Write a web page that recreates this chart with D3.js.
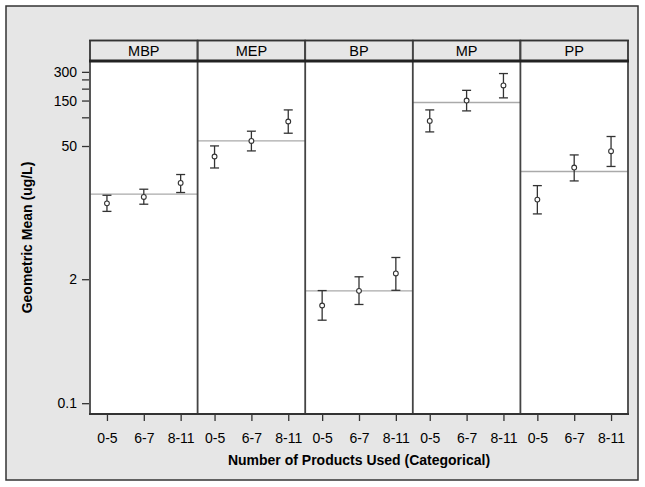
<!DOCTYPE html>
<html><head><meta charset="utf-8">
<script src="https://cdn.jsdelivr.net/npm/d3@7"></script>
<style>body{margin:0;background:#fff;}svg{display:block;font-family:"Liberation Sans",Arial,sans-serif;}</style>
</head><body><svg id="c" width="645" height="487"></svg>
<script>
const analytes = ["MBP","MEP","BP","MP","PP"];
const categories = ["0-5","6-7","8-11"];
const meanMBP = [12.5,14.6,20.5], loMBP = [10.3,12.25,16.25], hiMBP = [15.2,17.6,25.1];
const meanMEP = [38.8,56.5,90.4], loMEP = [29.4,44.4,68.1], hiMEP = [50.1,71.5,119.6];
const meanBP  = [1.06,1.51,2.30], loBP  = [0.743,1.086,1.53], hiBP  = [1.52,2.12,3.38];
const meanMP  = [91.7,150,216],   loMP  = [70.3,116.8,160],  hiMP  = [119.6,192,288];
const meanPP  = [13.7,29.7,44.1], loPP  = [9.69,21.5,30.5],  hiPP  = [19.2,40.3,62.9];
const overall = [15.6,56.5,1.51,143,27.0];
const yTicks = [0.1,2,50,100,150,200,250,300];
const yLabeled = [0.1,2,50,150,300];

const series = {MBP:[meanMBP,loMBP,hiMBP],MEP:[meanMEP,loMEP,hiMEP],BP:[meanBP,loBP,hiBP],MP:[meanMP,loMP,hiMP],PP:[meanPP,loPP,hiPP]};

const svg = d3.select("#c");
const L=90,R=628,stripTop=40.5,T=61,B=414;
const dark="#333";

svg.append("rect").attr("x",6).attr("y",6).attr("width",632).attr("height",474)
  .attr("fill","#e6e6e6").attr("stroke",dark).attr("stroke-width",1.5);

const px = d3.scaleBand().domain(analytes).range([L,R]).padding(0);
const y = d3.scaleLog().domain([0.077,390]).range([B,T]);

analytes.forEach((a,i)=>{
  const x0 = px(a), w = px.bandwidth();
  const g = svg.append("g");
  g.append("rect").attr("x",x0).attr("y",T).attr("width",w).attr("height",B-T).attr("fill","#fff");
  g.append("rect").attr("x",x0).attr("y",stripTop).attr("width",w).attr("height",T-stripTop)
    .attr("fill","#e6e6e6").attr("stroke",dark).attr("stroke-width",1.5);
  g.append("text").attr("x",x0+w/2).attr("y",(stripTop+T)/2).attr("dy","0.36em")
    .attr("text-anchor","middle").attr("font-size",14.5).attr("fill","#000").text(a);
  const xs = d3.scalePoint().domain(categories).range([x0,x0+w]).padding(0.46);
  g.append("line").attr("x1",x0).attr("x2",x0+w).attr("y1",y(overall[i])).attr("y2",y(overall[i]))
    .attr("stroke","#aaa").attr("stroke-width",1.3);
  const [m,lo,hi] = series[a];
  categories.forEach((c,j)=>{
    const cx = xs(c);
    g.append("line").attr("x1",cx).attr("x2",cx).attr("y1",y(lo[j])).attr("y2",y(hi[j])).attr("stroke",dark).attr("stroke-width",1.3);
    [lo[j],hi[j]].forEach(v=>g.append("line").attr("x1",cx-4.5).attr("x2",cx+4.5).attr("y1",y(v)).attr("y2",y(v)).attr("stroke",dark).attr("stroke-width",1.3));
    g.append("circle").attr("cx",cx).attr("cy",y(m[j])).attr("r",2.4).attr("fill","#fff").attr("stroke",dark).attr("stroke-width",1.1);
  });
  const ax = svg.append("g").attr("transform",`translate(0,${B})`)
    .call(d3.axisBottom(xs).tickSize(7).tickPadding(12).tickSizeOuter(0));
  ax.select(".domain").remove();
  ax.selectAll("line").attr("stroke",dark).attr("stroke-width",1.3);
  ax.selectAll("text").attr("font-size",14).attr("fill","#000").attr("font-family","Liberation Sans, Arial, sans-serif");
});

analytes.forEach(a=>{
  svg.append("line").attr("x1",px(a)).attr("x2",px(a)).attr("y1",stripTop).attr("y2",B).attr("stroke","#444").attr("stroke-width",1.8);
});
svg.append("line").attr("x1",R).attr("x2",R).attr("y1",stripTop).attr("y2",B).attr("stroke","#444").attr("stroke-width",1.8);
svg.append("line").attr("x1",L-1).attr("x2",R+1).attr("y1",T).attr("y2",T).attr("stroke","#222").attr("stroke-width",3);
svg.append("line").attr("x1",L-1).attr("x2",R+1).attr("y1",B).attr("y2",B).attr("stroke",dark).attr("stroke-width",2);
svg.append("line").attr("x1",L-1).attr("x2",R+1).attr("y1",stripTop).attr("y2",stripTop).attr("stroke",dark).attr("stroke-width",1.5);

const ay = svg.append("g").attr("transform",`translate(${L-1},0)`)
  .call(d3.axisLeft(y).tickValues(yTicks).tickSize(7).tickPadding(5)
    .tickFormat(d=> yLabeled.includes(d) ? d3.format("~g")(d) : ""));
ay.select(".domain").remove();
ay.selectAll("line").attr("stroke",dark).attr("stroke-width",1.3);
ay.selectAll("text").attr("font-size",14).attr("fill","#000").attr("font-family","Liberation Sans, Arial, sans-serif");

svg.append("text").attr("x",(L+R)/2).attr("y",464.5).attr("text-anchor","middle")
  .attr("font-size",14).attr("font-weight","bold").attr("fill","#000").text("Number of Products Used (Categorical)");
svg.append("text").attr("transform",`translate(32,${(T+B)/2}) rotate(-90)`).attr("text-anchor","middle")
  .attr("font-size",14).attr("font-weight","bold").attr("fill","#000").text("Geometric Mean (ug/L)");
</script></body></html>
